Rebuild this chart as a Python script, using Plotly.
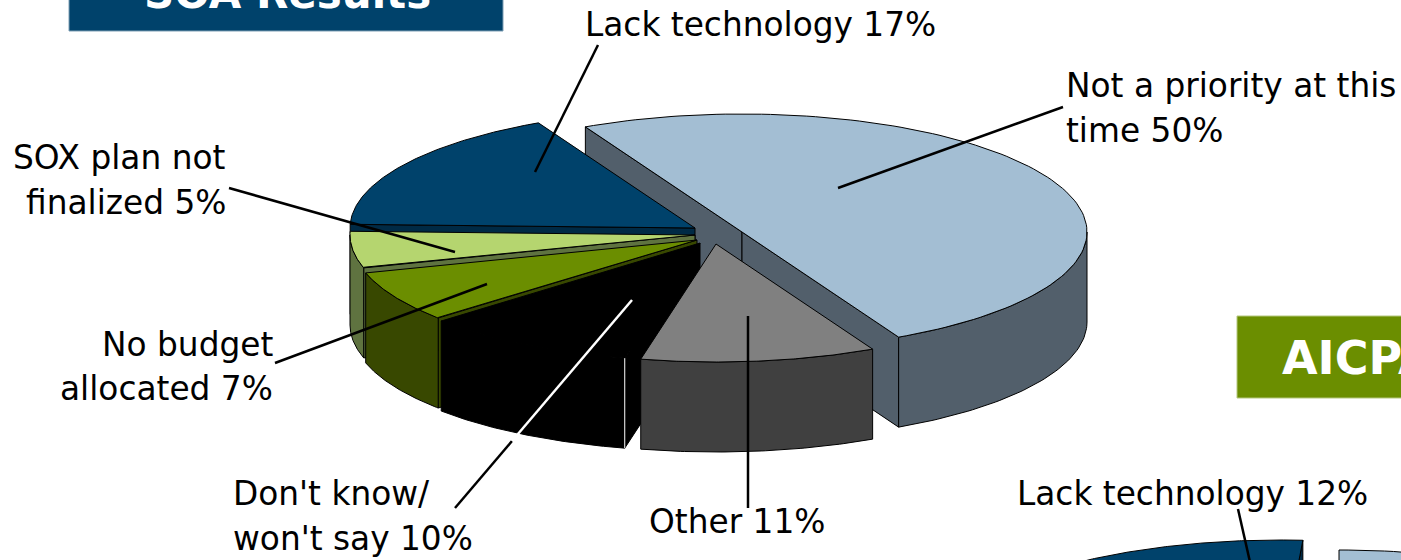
import numpy as np
import plotly.graph_objects as go

# ---- data ----
categories = ["Not a priority at this time", "Other", "Don't know/won't say",
              "No budget allocated", "SOX plan not finalized", "Lack technology"]
values = [50, 11, 10, 7, 5, 17]
second_categories = ["Not a priority at this time", "Lack technology"]
second_values = [50, 12]

# ---- style / layout ----
W, H = 1401, 560
RX, RY, DEPTH = 345, 118, 90
START = -27
SECOND_START = 3.8
TOPS = ["#A3BED3", "#808080", "#000000", "#6B8E00", "#B5D56F", "#00426B"]
WALLS = ["#525F6B", "#404040", "#000000", "#384800", "#5F7340", "#002A45"]
CENTERS = [(742, 232), (716, 244), (700, 243), (697, 240), (695, 235), (695, 228)]
DRAW_ORDER = [0, 5, 4, 3, 2, 1]
FONT = "DejaVu Sans"
FS = 32.8

fig = go.Figure()


def poly(x, y, color, line="#000000"):
    fig.add_trace(go.Scatter(x=list(x) + [x[0]], y=list(y) + [y[0]], mode="lines", fill="toself",
                             fillcolor=color, line=dict(color=line, width=1),
                             hoverinfo="skip", showlegend=False))


def wedge(cx, cy, a0, a1, top, wall):
    def px(t):
        return cx + RX * np.sin(np.radians(t))

    def py(t):
        return cy - RY * np.cos(np.radians(t))

    # radial cut faces, only those turned towards the viewer
    if np.sin(np.radians(a0)) < 0:
        poly([cx, px(a0), px(a0), cx], [cy, py(a0), py(a0) + DEPTH, cy + DEPTH], wall)
    if np.sin(np.radians(a1)) > 0:
        poly([cx, px(a1), px(a1), cx], [cy, py(a1), py(a1) + DEPTH, cy + DEPTH], wall)
    # outer wall: only the part facing the viewer
    lo, hi = max(a0, 90), min(a1, 270)
    if hi > lo:
        t = np.linspace(lo, hi, 60)
        poly(np.r_[px(t), px(t)[::-1]], np.r_[py(t), py(t)[::-1] + DEPTH], wall)
    t = np.linspace(a0, a1, 120)
    poly(np.r_[cx, px(t)], np.r_[cy, py(t)], top)


sweeps = np.array(values) / sum(values) * 360
starts = START + np.r_[0, np.cumsum(sweeps)[:-1]]
for i in DRAW_ORDER:
    cx, cy = CENTERS[i]
    wedge(cx, cy, starts[i], starts[i] + sweeps[i], TOPS[i], WALLS[i])

# accent line on the black slice's outer corner
a = starts[2]
cx, cy = CENTERS[2]
xc = cx + RX * np.sin(np.radians(a))
yc = cy - RY * np.cos(np.radians(a))
fig.add_trace(go.Scatter(x=[xc, xc], y=[yc, yc + DEPTH], mode="lines", line=dict(color="#FFFFFF", width=1),
                         hoverinfo="skip", showlegend=False))

# second pie, only its top edge is on the page
s2 = np.array(second_values) / 100 * 360
wedge(1339, 668, 0, s2[0], TOPS[0], WALLS[0])
wedge(1280, 658, SECOND_START - s2[1], SECOND_START, TOPS[5], WALLS[5])

shapes = [
    dict(type="rect", x0=69, x1=503, y0=-2, y1=31, fillcolor="#00426B", line=dict(color="#7F9FB5", width=1), layer="below"),
    dict(type="rect", x0=1237, x1=1403, y0=316, y1=398, fillcolor="#6B8E00", line=dict(color="#B5C77F", width=1), layer="below"),
]
leaders = [
    (598, 45, 535, 172, "#000000"),
    (1063, 107, 838, 188, "#000000"),
    (229, 188, 455, 252, "#000000"),
    (275, 363, 487, 284, "#000000"),
    (455, 508, 512, 441, "#000000"),
    (512, 441, 632, 300, "#FFFFFF"),
    (748, 316, 748, 508, "#000000"),
    (1238, 509, 1250, 562, "#000000"),
]
for x0, y0, x1, y1, c in leaders:
    shapes.append(dict(type="line", x0=x0, y0=y0, x1=x1, y1=y1, line=dict(color=c, width=2.5), layer="above"))

labels = [
    ("Lack technology 17%", 583, 25, "left"),
    ("Not a priority at this", 1064, 86, "left"),
    ("time 50%", 1064, 131, "left"),
    ("SOX plan not", 228, 158, "right"),
    ("finalized 5%", 228, 203, "right"),
    ("No budget", 275, 345, "right"),
    ("allocated 7%", 275, 389, "right"),
    ("Don't know/", 231, 494, "left"),
    ("won't say 10%", 231, 539, "left"),
    ("Other 11%", 647, 522, "left"),
    ("Lack technology 12%", 1015, 494, "left"),
]
ann = [dict(x=x, y=y, text=t, xanchor=a, yanchor="middle", showarrow=False,
            font=dict(family=FONT, size=FS, color="#000000"), xref="x", yref="y")
       for t, x, y, a in labels]
ann.append(dict(x=287, y=14, text="<b>SOA Results</b>", xanchor="center", yanchor="bottom", showarrow=False, yshift=-6,
                font=dict(family="DejaVu Sans", size=42, color="#FFFFFF"), xref="x", yref="y"))
ann.append(dict(x=1280, y=358, text="<b>AICPA Results</b>", xanchor="left", yanchor="middle", showarrow=False,
                font=dict(family="DejaVu Sans", size=46, color="#FFFFFF"), xref="x", yref="y"))

fig.update_layout(
    width=W, height=H, margin=dict(l=0, r=0, t=0, b=0, pad=0, autoexpand=False),
    paper_bgcolor="#FFFFFF", plot_bgcolor="#FFFFFF", showlegend=False,
    xaxis=dict(range=[0, W], visible=False, fixedrange=True),
    yaxis=dict(range=[H, 0], visible=False, fixedrange=True),
    shapes=shapes, annotations=ann,
)
fig.write_html("out.html", config=dict(displayModeBar=False),
               post_script="document.body.style.margin='0';document.body.style.overflow='hidden';")
